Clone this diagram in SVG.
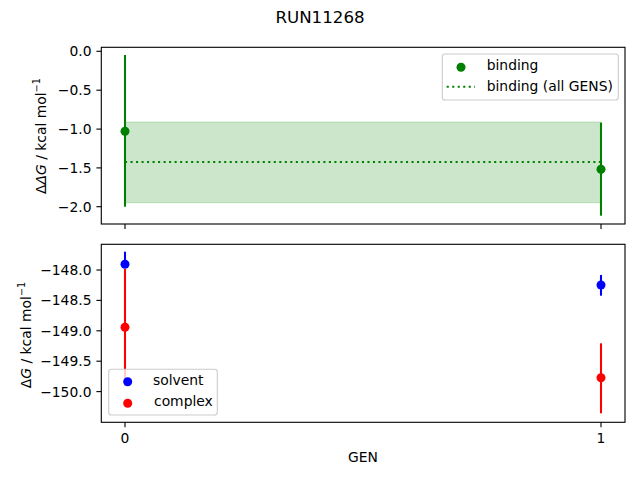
<svg xmlns="http://www.w3.org/2000/svg" width="640" height="480" viewBox="0 0 640 480">
<style>
text{font-family:"DejaVu Sans",sans-serif;font-size:13.89px;fill:#000}
.tl{text-anchor:end;dominant-baseline:central}
.tb{text-anchor:middle}
.ax{fill:none;stroke:#000;stroke-width:1.11}
.tk{stroke:#000;stroke-width:1.11}
.eg{stroke:#008000;stroke-width:2.08}
.eb{stroke:#0000ff;stroke-width:2.08}
.er{stroke:#ff0000;stroke-width:2.08}
.leg{fill:#fff;fill-opacity:0.8;stroke:#cccccc;stroke-width:1.11}
.sup{font-size:9.7px}
</style>
<rect width="640" height="480" fill="#fff"/>
<text x="320" y="22.5" class="tb" style="font-size:16.67px">RUN11268</text>

<g id="top-axes">
  <rect x="125" y="122" width="476.5" height="80.7" fill="#008000" fill-opacity="0.2" stroke="#008000" stroke-opacity="0.2" stroke-width="1"/>
  <line x1="125" y1="162" x2="601" y2="162" stroke="#008000" stroke-width="2.08" stroke-dasharray="2.08 3.43"/>
  <line class="eg" x1="125" y1="55" x2="125" y2="206.7"/>
  <circle cx="125" cy="131.3" r="4.5" fill="#008000"/>
  <line class="eg" x1="601" y1="122.7" x2="601" y2="215.7"/>
  <circle cx="601" cy="169.3" r="4.5" fill="#008000"/>
  <rect class="ax" x="101.3" y="47.3" width="523.7" height="176.7"/>
  <g class="tk">
    <line x1="96.4" y1="51.3" x2="101.3" y2="51.3"/>
    <line x1="96.4" y1="90.2" x2="101.3" y2="90.2"/>
    <line x1="96.4" y1="129.1" x2="101.3" y2="129.1"/>
    <line x1="96.4" y1="167.9" x2="101.3" y2="167.9"/>
    <line x1="96.4" y1="206.7" x2="101.3" y2="206.7"/>
    <line x1="125" y1="224" x2="125" y2="228.9"/>
    <line x1="601" y1="224" x2="601" y2="228.9"/>
  </g>
  <text class="tl" x="91.5" y="51.3">0.0</text>
  <text class="tl" x="91.5" y="90.2">−0.5</text>
  <text class="tl" x="91.5" y="129.1">−1.0</text>
  <text class="tl" x="91.5" y="167.9">−1.5</text>
  <text class="tl" x="91.5" y="206.7">−2.0</text>
  <text transform="translate(45.5,136) rotate(-90)" class="tb">Δ<tspan font-style="italic">ΔG</tspan> / kcal mol<tspan dy="-5.5" class="sup">−1</tspan></text>
  <g id="legend-top">
    <rect class="leg" x="442.3" y="54" width="176" height="46" rx="2.8"/>
    <circle cx="461" cy="67.3" r="4.5" fill="#008000"/>
    <text x="486.7" y="70.2">binding</text>
    <line x1="446.7" y1="86.7" x2="475" y2="86.7" stroke="#008000" stroke-width="2.08" stroke-dasharray="2.08 3.43"/>
    <text x="486.7" y="91.3">binding (all GENS)</text>
  </g>
</g>

<g id="bottom-axes">
  <line class="eb" x1="125" y1="251.7" x2="125" y2="268"/>
  <line class="er" x1="125" y1="269" x2="125" y2="386"/>
  <circle cx="125" cy="327.3" r="4.5" fill="#ff0000"/>
  <circle cx="125" cy="264.3" r="4.5" fill="#0000ff"/>
  <line class="eb" x1="601" y1="275" x2="601" y2="295.7"/>
  <circle cx="601" cy="285" r="4.5" fill="#0000ff"/>
  <line class="er" x1="601" y1="343.3" x2="601" y2="413.3"/>
  <circle cx="601" cy="377.7" r="4.5" fill="#ff0000"/>
  <rect class="ax" x="101.3" y="244.3" width="523.7" height="178"/>
  <g class="tk">
    <line x1="96.4" y1="270" x2="101.3" y2="270"/>
    <line x1="96.4" y1="300.4" x2="101.3" y2="300.4"/>
    <line x1="96.4" y1="330.8" x2="101.3" y2="330.8"/>
    <line x1="96.4" y1="361.2" x2="101.3" y2="361.2"/>
    <line x1="96.4" y1="391.6" x2="101.3" y2="391.6"/>
    <line x1="125" y1="422.3" x2="125" y2="427.2"/>
    <line x1="601" y1="422.3" x2="601" y2="427.2"/>
  </g>
  <text class="tl" x="91.5" y="270">−148.0</text>
  <text class="tl" x="91.5" y="300.4">−148.5</text>
  <text class="tl" x="91.5" y="330.8">−149.0</text>
  <text class="tl" x="91.5" y="361.2">−149.5</text>
  <text class="tl" x="91.5" y="391.6">−150.0</text>
  <text class="tb" x="125" y="442.5">0</text>
  <text class="tb" x="601" y="442.5">1</text>
  <text class="tb" x="363" y="462">GEN</text>
  <text transform="translate(30.5,335) rotate(-90)" class="tb">Δ<tspan font-style="italic">G</tspan> / kcal mol<tspan dy="-5.5" class="sup">−1</tspan></text>
  <g id="legend-bottom">
    <rect class="leg" x="108.7" y="369.3" width="108.6" height="45.7" rx="2.8"/>
    <circle cx="127.7" cy="381.7" r="4.5" fill="#0000ff"/>
    <text x="153" y="385.3">solvent</text>
    <circle cx="127.7" cy="403.3" r="4.5" fill="#ff0000"/>
    <text x="154" y="406">complex</text>
  </g>
</g>
</svg>
